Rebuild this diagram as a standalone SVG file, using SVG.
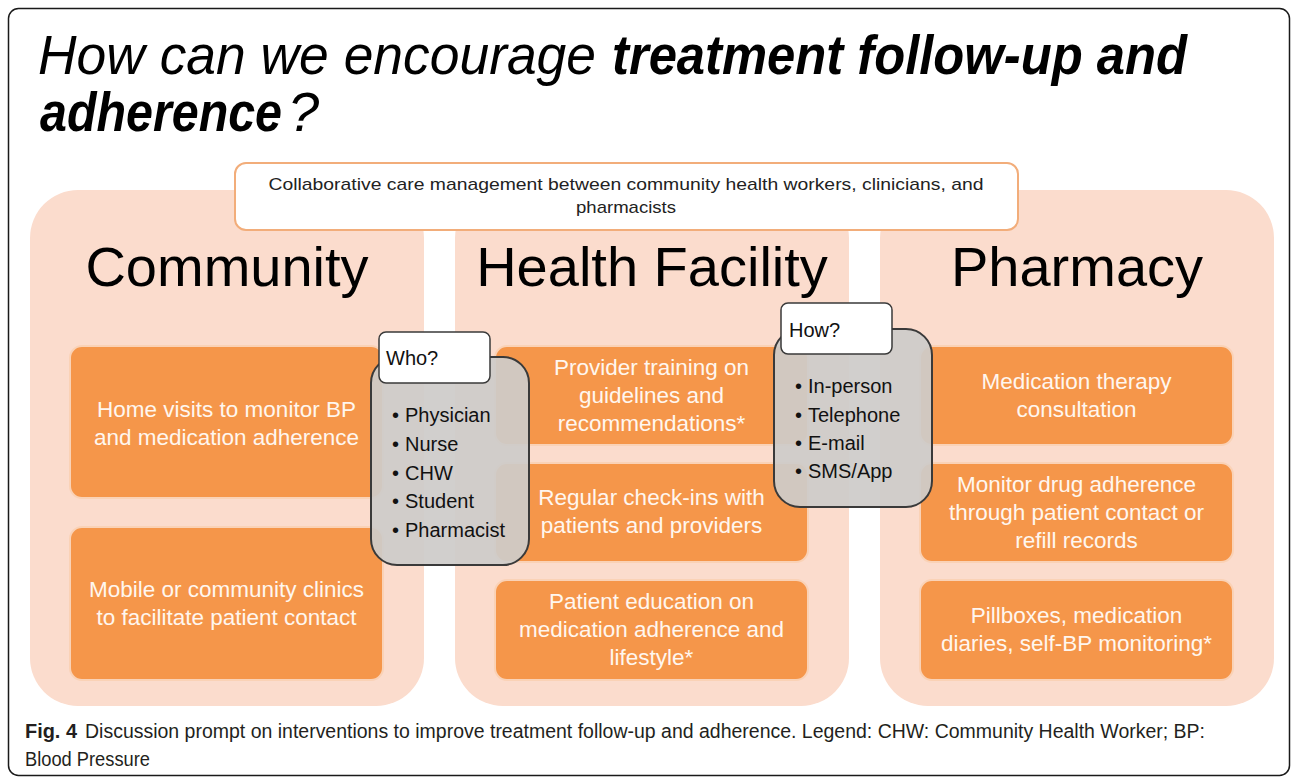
<svg xmlns="http://www.w3.org/2000/svg" width="1292" height="778" viewBox="0 0 1292 778">
  <style>
    .frame { fill: #ffffff; stroke: #1a1a1a; stroke-width: 1.5; }
    .title { font-family: "Liberation Sans", Arial, sans-serif; font-size: 56px; font-style: italic; fill: #000; }
    .bold { font-weight: bold; }
    .normal { font-weight: normal; }
    .panel { fill: #FBDCCD; }
    .ptitle { font-family: "Liberation Sans", Arial, sans-serif; font-size: 56px; fill: #000; text-anchor: middle; }
    .box { fill: #F5964A; stroke: #FAD2B6; stroke-width: 2; }
    .btext { font-family: "Liberation Sans", Arial, sans-serif; font-size: 22.5px; fill: #FFF6EF; text-anchor: middle; }
    .collab { fill: #ffffff; stroke: #F2AD7A; stroke-width: 2; }
    .ctext { font-family: "Liberation Sans", Arial, sans-serif; font-size: 17px; fill: #222; text-anchor: middle; }
    .grey { fill: #CDCBC9; fill-opacity: 0.93; stroke: #3A3A3A; stroke-width: 2; }
    .label { fill: #ffffff; stroke: #3A3A3A; stroke-width: 1.5; }
    .ltext { font-family: "Liberation Sans", Arial, sans-serif; font-size: 20px; fill: #111; }
    .cap { font-family: "Liberation Sans", Arial, sans-serif; font-size: 20px; fill: #231F20; }
  </style>

  <rect class="frame" x="8.5" y="8.5" width="1281" height="767" rx="10"/>

  <g id="title">
    <text class="title" x="38" y="74" textLength="558" lengthAdjust="spacingAndGlyphs">How can we encourage</text>
    <text class="title bold" x="612" y="74" textLength="575" lengthAdjust="spacingAndGlyphs">treatment follow-up and</text>
    <text class="title bold" x="40" y="131"><tspan textLength="242" lengthAdjust="spacingAndGlyphs">adherence</tspan><tspan class="normal" dx="6">?</tspan></text>
  </g>

  <g id="panel-community">
    <rect class="panel" x="30" y="190" width="394" height="516" rx="48"/>
    <text class="ptitle" x="227" y="286">Community</text>
  </g>
  <g id="panel-health-facility">
    <rect class="panel" x="455" y="190" width="394" height="516" rx="48"/>
    <text class="ptitle" x="652" y="286">Health Facility</text>
  </g>
  <g id="panel-pharmacy">
    <rect class="panel" x="880" y="190" width="394" height="516" rx="48"/>
    <text class="ptitle" x="1077" y="286">Pharmacy</text>
  </g>

  <g id="collaborative">
    <rect class="collab" x="235" y="163" width="783" height="67" rx="11"/>
    <text class="ctext" x="626" y="190" textLength="715" lengthAdjust="spacingAndGlyphs">Collaborative care management between community health workers, clinicians, and</text>
    <text class="ctext" x="626" y="213" textLength="100" lengthAdjust="spacingAndGlyphs">pharmacists</text>
  </g>

  <g id="home-visits">
    <rect class="box" x="70" y="346" width="313" height="152" rx="12"/>
    <text class="btext" x="226.5" y="417">Home visits to monitor BP</text>
    <text class="btext" x="226.5" y="445">and medication adherence</text>
  </g>
  <g id="mobile-clinics">
    <rect class="box" x="70" y="527" width="313" height="153" rx="12"/>
    <text class="btext" x="226.5" y="597">Mobile or community clinics</text>
    <text class="btext" x="226.5" y="625">to facilitate patient contact</text>
  </g>

  <g id="provider-training">
    <rect class="box" x="495" y="346" width="313" height="99" rx="12"/>
    <text class="btext" x="651.5" y="375">Provider training on</text>
    <text class="btext" x="651.5" y="403">guidelines and</text>
    <text class="btext" x="651.5" y="431">recommendations*</text>
  </g>
  <g id="regular-checkins">
    <rect class="box" x="495" y="463" width="313" height="99" rx="12"/>
    <text class="btext" x="651.5" y="505">Regular check-ins with</text>
    <text class="btext" x="651.5" y="533">patients and providers</text>
  </g>
  <g id="patient-education">
    <rect class="box" x="495" y="580" width="313" height="100" rx="12"/>
    <text class="btext" x="651.5" y="609">Patient education on</text>
    <text class="btext" x="651.5" y="637">medication adherence and</text>
    <text class="btext" x="651.5" y="665">lifestyle*</text>
  </g>

  <g id="medication-therapy">
    <rect class="box" x="920" y="346" width="313" height="99" rx="12"/>
    <text class="btext" x="1076.5" y="389">Medication therapy</text>
    <text class="btext" x="1076.5" y="417">consultation</text>
  </g>
  <g id="monitor-drug">
    <rect class="box" x="920" y="463" width="313" height="99" rx="12"/>
    <text class="btext" x="1076.5" y="492">Monitor drug adherence</text>
    <text class="btext" x="1076.5" y="520">through patient contact or</text>
    <text class="btext" x="1076.5" y="548">refill records</text>
  </g>
  <g id="pillboxes">
    <rect class="box" x="920" y="580" width="313" height="100" rx="12"/>
    <text class="btext" x="1076.5" y="623">Pillboxes, medication</text>
    <text class="btext" x="1076.5" y="651">diaries, self-BP monitoring*</text>
  </g>

  <g id="who">
    <rect class="grey" x="371" y="357" width="158" height="208" rx="26"/>
    <rect class="label" x="379" y="332" width="111" height="51" rx="7"/>
    <text class="ltext" x="386" y="365">Who?</text>
    <text class="ltext" x="392" y="422">•<tspan x="405">Physician</tspan></text>
    <text class="ltext" x="392" y="451">•<tspan x="405">Nurse</tspan></text>
    <text class="ltext" x="392" y="480">•<tspan x="405">CHW</tspan></text>
    <text class="ltext" x="392" y="508">•<tspan x="405">Student</tspan></text>
    <text class="ltext" x="392" y="537">•<tspan x="405">Pharmacist</tspan></text>
  </g>

  <g id="how">
    <rect class="grey" x="774" y="329" width="158" height="178" rx="26"/>
    <rect class="label" x="781" y="303" width="111" height="51" rx="7"/>
    <text class="ltext" x="789" y="337">How?</text>
    <text class="ltext" x="795" y="393">•<tspan x="808">In-person</tspan></text>
    <text class="ltext" x="795" y="422">•<tspan x="808">Telephone</tspan></text>
    <text class="ltext" x="795" y="450">•<tspan x="808">E-mail</tspan></text>
    <text class="ltext" x="795" y="478">•<tspan x="808">SMS/App</tspan></text>
  </g>

  <g id="connectors"></g>

  <g id="caption">
    <text class="cap bold" x="25" y="738" textLength="52" lengthAdjust="spacingAndGlyphs">Fig. 4</text>
    <text class="cap" x="85" y="738" textLength="1120" lengthAdjust="spacingAndGlyphs">Discussion prompt on interventions to improve treatment follow-up and adherence. Legend: CHW: Community Health Worker; BP:</text>
    <text class="cap" x="25" y="766" textLength="125" lengthAdjust="spacingAndGlyphs">Blood Pressure</text>
  </g>
</svg>
